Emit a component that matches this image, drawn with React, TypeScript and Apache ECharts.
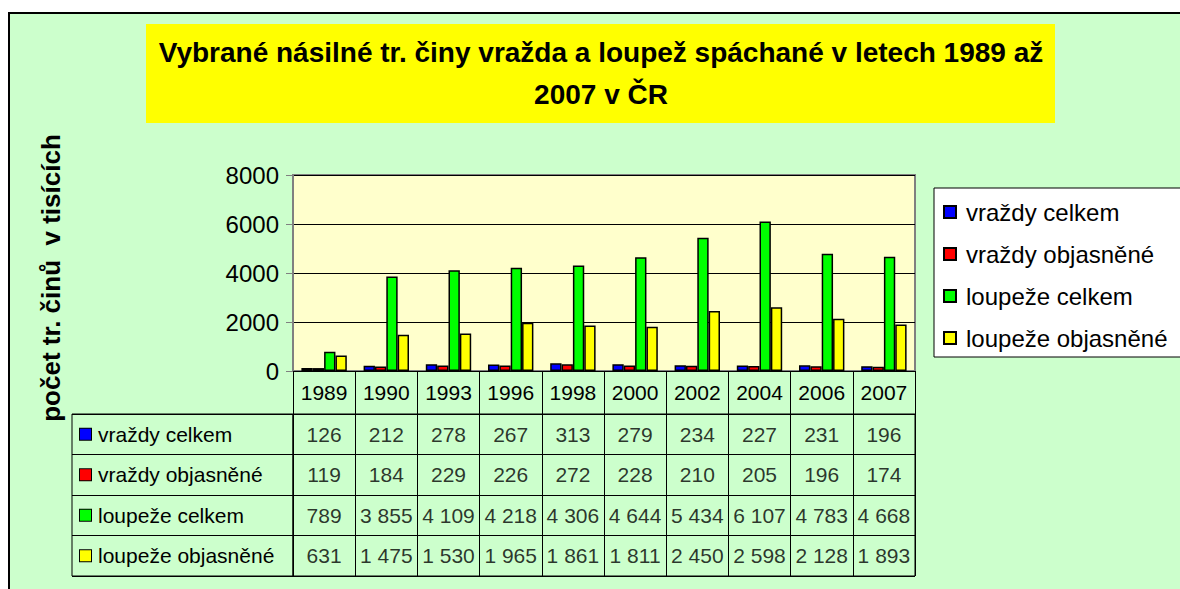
import React, { useEffect, useRef } from "react";
import * as echarts from "echarts";

const years = ["1989", "1990", "1993", "1996", "1998", "2000", "2002", "2004", "2006", "2007"];
const seriesNames = ["vraždy celkem", "vraždy objasněné", "loupeže celkem", "loupeže objasněné"];
const vrazdyCelkem = [126, 212, 278, 267, 313, 279, 234, 227, 231, 196];
const vrazdyObjasnene = [119, 184, 229, 226, 272, 228, 210, 205, 196, 174];
const loupezeCelkem = [789, 3855, 4109, 4218, 4306, 4644, 5434, 6107, 4783, 4668];
const loupezeObjasnene = [631, 1475, 1530, 1965, 1861, 1811, 2450, 2598, 2128, 1893];
const seriesColors = ["#0000FF", "#FF0000", "#00FF00", "#FFFF00"];
const yMin = 0;
const yMax = 8000;
const yInterval = 2000;
const titleText = "Vybrané násilné tr. činy vražda a loupež spáchané v letech 1989 až\n2007 v ČR";
const yAxisTitle = "počet tr. činů  v tisících";

const FONT = 'Arial, "Liberation Sans", sans-serif';

const fmt = (n: number) => String(n).replace(/\B(?=(\d{3})+(?!\d))/g, " ");

export default function App() {
  const ref = useRef<HTMLDivElement>(null);

  useEffect(() => {
    document.body.style.margin = "0";
    if (!ref.current) return;
    const chart = echarts.init(ref.current, undefined, { renderer: "svg" });
    const allValues = [vrazdyCelkem, vrazdyObjasnene, loupezeCelkem, loupezeObjasnene];

    const tableData: any[] = [];
    allValues.forEach((vals, s) => {
      vals.forEach((v, i) => tableData.push({ value: [i, s, v] }));
    });

    const rich: any = {
      t: { fontSize: 21, color: "#000", fontFamily: FONT, padding: [0, 0, 0, 7] },
    };
    seriesColors.forEach((c, i) => {
      rich["m" + i] = { width: 11, height: 11, backgroundColor: c, borderColor: "#000", borderWidth: 1 };
    });

    const option: any = {
      animation: false,
      backgroundColor: "transparent",
      textStyle: { fontFamily: FONT },
      graphic: [
        {
          type: "rect",
          shape: { x: 146, y: 24, width: 909, height: 99 },
          style: { fill: "#FFFF00" },
        },
        {
          type: "text",
          x: 601,
          y: 73,
          style: {
            text: titleText,
            fontSize: 28,
            fontWeight: "bold",
            fontFamily: FONT,
            fill: "#000",
            align: "center",
            verticalAlign: "middle",
            lineHeight: 42,
          },
        },
        {
          type: "text",
          x: 51,
          y: 278,
          rotation: Math.PI / 2,
          style: {
            text: yAxisTitle,
            fontSize: 26,
            fontWeight: "bold",
            fontFamily: FONT,
            fill: "#000",
            align: "center",
            verticalAlign: "middle",
          },
        },
      ],
      legend: {
        data: seriesNames,
        orient: "vertical",
        left: 934,
        top: 188,
        itemWidth: 12,
        itemHeight: 12,
        itemGap: 18,
        icon: "rect",
        backgroundColor: "#FFFFFF",
        borderColor: "#000",
        borderWidth: 1,
        padding: [12, 40, 7, 9],
        textStyle: { fontSize: 24, color: "#000", fontFamily: FONT, padding: [0, 0, 0, 5] },
      },
      grid: [
        {
          left: 293,
          top: 175,
          width: 622,
          height: 196,
          show: true,
          backgroundColor: "#FFFFCC",
          borderColor: "#808080",
          borderWidth: 2,
        },
        { left: 293, top: 414, width: 622, height: 162, show: true, borderColor: "#000", borderWidth: 1 },
        { left: 72, top: 414, width: 221, height: 162, show: true, borderColor: "#000", borderWidth: 1 },
      ],
      xAxis: [
        {
          gridIndex: 0,
          type: "category",
          data: years,
          axisLine: { lineStyle: { color: "#000", width: 1 } },
          axisTick: { show: true, interval: 0, length: 43, lineStyle: { color: "#000" } },
          axisLabel: { interval: 0, margin: 11, fontSize: 21, color: "#000", fontFamily: FONT },
          splitLine: { show: false },
        },
        {
          gridIndex: 1,
          type: "category",
          data: years,
          axisLine: { show: false },
          axisTick: { show: false },
          axisLabel: { show: false },
          splitLine: { show: true, interval: 0, lineStyle: { color: "#000", width: 1 } },
        },
        { gridIndex: 2, type: "value", min: 0, max: 1, show: false },
      ],
      yAxis: [
        {
          gridIndex: 0,
          type: "value",
          min: yMin,
          max: yMax,
          interval: yInterval,
          axisLine: { show: true, lineStyle: { color: "#808080", width: 2 } },
          axisTick: { show: true, length: 7, lineStyle: { color: "#808080" } },
          axisLabel: {
            fontSize: 24,
            margin: 14,
            color: "#000",
            fontFamily: FONT,
            formatter: (v: number) => String(v),
          },
          splitLine: { show: true, lineStyle: { color: "#000", width: 1 } },
        },
        {
          gridIndex: 1,
          type: "category",
          data: seriesNames,
          inverse: true,
          axisLine: { show: false },
          axisTick: { show: false },
          axisLabel: { show: false },
          splitLine: { show: true, interval: 0, lineStyle: { color: "#000", width: 1 } },
        },
        {
          gridIndex: 2,
          type: "category",
          data: seriesNames,
          inverse: true,
          axisLine: { show: false },
          axisTick: { show: false },
          splitLine: { show: true, interval: 0, lineStyle: { color: "#000", width: 1 } },
          axisLabel: {
            inside: true,
            margin: 8,
            interval: 0,
            formatter: (v: string, i: number) => `{m${i}|}{t|${v}}`,
            rich,
          },
        },
      ],
      series: [
        ...allValues.map((vals, k) => ({
          name: seriesNames[k],
          type: "bar",
          xAxisIndex: 0,
          yAxisIndex: 0,
          data: vals,
          barGap: "0%",
          barCategoryGap: "27%",
          itemStyle: { color: seriesColors[k], borderColor: "#000", borderWidth: 1.5 },
        })),
        {
          name: "tabulka",
          type: "scatter",
          xAxisIndex: 1,
          yAxisIndex: 1,
          symbolSize: 1,
          itemStyle: { color: "rgba(0,0,0,0)" },
          data: tableData,
          label: {
            show: true,
            position: "inside",
            formatter: (p: any) => fmt(p.value[2]),
            fontSize: 21,
            color: "#000000",
            textBorderWidth: 0,
            fontFamily: FONT,
          },
          emphasis: { disabled: true },
        },
      ],
    };
    chart.setOption(option);
    return () => chart.dispose();
  }, []);

  return (
    <div style={{ position: "relative", width: 1180, height: 589, overflow: "hidden", background: "#FFFFFF" }}>
      <div
        style={{
          position: "absolute",
          left: 8,
          top: 12,
          width: 1250,
          height: 650,
          border: "2px solid #000",
          background: "#CCFFCC",
        }}
      />
      <div ref={ref} style={{ position: "absolute", left: 0, top: 0, width: 1180, height: 589 }} />
    </div>
  );
}
